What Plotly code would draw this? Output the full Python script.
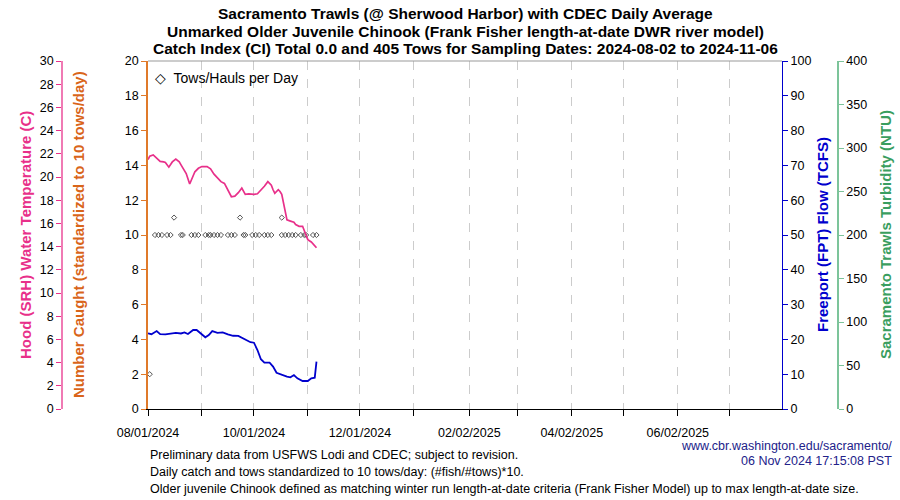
import plotly.graph_objects as go

# ---------------- data ----------------
temp_dates = ["2024-08-01", "2024-08-02", "2024-08-04", "2024-08-06", "2024-08-08", "2024-08-10",
              "2024-08-11", "2024-08-13", "2024-08-15", "2024-08-17", "2024-08-19", "2024-08-20",
              "2024-08-22", "2024-08-23", "2024-08-25", "2024-08-26", "2024-08-28", "2024-08-30",
              "2024-09-01", "2024-09-04", "2024-09-06", "2024-09-08", "2024-09-10", "2024-09-12",
              "2024-09-14", "2024-09-16", "2024-09-18", "2024-09-20", "2024-09-22", "2024-09-24",
              "2024-09-26", "2024-09-28", "2024-10-01", "2024-10-03", "2024-10-05", "2024-10-07",
              "2024-10-09", "2024-10-11", "2024-10-12", "2024-10-13", "2024-10-15", "2024-10-16",
              "2024-10-17", "2024-10-18", "2024-10-19", "2024-10-20", "2024-10-22", "2024-10-24",
              "2024-10-25", "2024-10-27", "2024-10-29", "2024-10-30", "2024-11-01", "2024-11-03",
              "2024-11-04", "2024-11-06"]
temp_values = [21.5, 21.8, 21.9, 21.6, 21.35, 21.3,
               21.25, 20.85, 21.3, 21.55, 21.3, 21.05,
               20.6, 20.3, 19.4, 19.8, 20.45, 20.75,
               20.9, 20.9, 20.7, 20.25, 19.95, 19.6,
               19.45, 18.9, 18.3, 18.35, 18.65, 19.05,
               18.5, 18.55, 18.5, 18.55, 18.85, 19.2,
               19.6, 19.3, 18.9, 18.6, 18.9, 18.75,
               18.5, 17.8, 17.2, 16.3, 16.2, 16.1,
               15.9, 15.75, 15.75, 15.4, 14.6, 14.4,
               14.2, 13.9]

flow_dates = ["2024-08-01", "2024-08-03", "2024-08-06", "2024-08-08", "2024-08-11", "2024-08-14",
              "2024-08-17", "2024-08-20", "2024-08-22", "2024-08-24", "2024-08-27", "2024-08-29",
              "2024-08-31", "2024-09-03", "2024-09-05", "2024-09-07", "2024-09-10", "2024-09-13",
              "2024-09-16", "2024-09-19", "2024-09-22", "2024-09-24", "2024-09-26", "2024-09-29",
              "2024-10-01", "2024-10-03", "2024-10-05", "2024-10-07", "2024-10-10", "2024-10-12",
              "2024-10-14", "2024-10-17", "2024-10-20", "2024-10-22", "2024-10-24", "2024-10-26",
              "2024-10-29", "2024-11-01", "2024-11-03", "2024-11-05", "2024-11-06"]
flow_values = [21.75, 21.5, 22.4, 21.5, 21.45, 21.75,
               21.9, 21.7, 22.0, 21.55, 22.7, 22.7,
               21.75, 20.6, 21.25, 22.4, 21.9, 22.0,
               21.45, 21.05, 21.0, 20.5, 19.8, 19.2,
               19.05, 16.95, 14.3, 13.3, 13.3, 12.2,
               10.4, 9.8, 9.3, 9.1, 9.75, 8.8,
               8.05, 8.05, 8.8, 9.0, 13.6]

# turbidity: no values shown in the chart
turb_dates = []
turb_values = []

tow_dates = ["2024-08-02", "2024-08-05", "2024-08-07", "2024-08-09", "2024-08-12", "2024-08-14",
             "2024-08-16", "2024-08-20", "2024-08-21", "2024-08-26", "2024-08-28", "2024-08-30",
             "2024-09-03", "2024-09-05", "2024-09-06", "2024-09-08", "2024-09-10", "2024-09-12",
             "2024-09-16", "2024-09-18", "2024-09-20", "2024-09-23", "2024-09-25", "2024-09-26",
             "2024-09-30", "2024-10-02", "2024-10-04", "2024-10-07", "2024-10-09", "2024-10-11",
             "2024-10-17", "2024-10-17", "2024-10-19", "2024-10-21", "2024-10-23", "2024-10-25",
             "2024-10-28", "2024-10-30", "2024-10-31", "2024-11-04", "2024-11-06"]
tow_values = [2, 10, 10, 10, 10, 10,
              11, 10, 10, 10, 10, 10,
              10, 10, 10, 10, 10, 10,
              10, 10, 10, 11, 10, 10,
              10, 10, 10, 10, 10, 10,
              10, 11, 10, 10, 10, 10,
              10, 10, 10, 10, 10]

tick_dates = ["2024-08-01", "2024-09-01", "2024-10-01", "2024-11-01", "2024-12-01", "2025-01-01",
              "2025-02-02", "2025-03-02", "2025-04-02", "2025-05-02", "2025-06-02", "2025-07-02"]
tick_labels = ["08/01/2024", "", "10/01/2024", "", "12/01/2024", "",
               "02/02/2025", "", "04/02/2025", "", "06/02/2025", ""]
x_range = ["2024-08-01", "2025-08-01"]

title_lines = ["Sacramento Trawls (@ Sherwood Harbor) with CDEC Daily Average",
               "Unmarked Older Juvenile Chinook (Frank Fisher length-at-date DWR river model)",
               "Catch Index (CI) Total 0.0 and 405 Tows for Sampling Dates: 2024-08-02 to 2024-11-06"]
footer_lines = ["Preliminary data from USFWS Lodi and CDEC; subject to revision.",
                "Daily catch and tows standardized to 10 tows/day: (#fish/#tows)*10.",
                "Older juvenile Chinook defined as matching winter run length-at-date criteria (Frank Fisher Model) up to max length-at-date size."]
credit_lines = ["www.cbr.washington.edu/sacramento/", "06 Nov 2024 17:15:08 PST"]

# ---------------- styling ----------------
W, H = 900, 500
PL, PR, PT, PB = 148, 782, 61, 409
FONT = "Liberation Sans, Arial, Helvetica, sans-serif"
PINK = "#E8308A"
PINK_AX = "#F07AB4"
ORANGE = "#D9651A"
ORANGE_AX = "#E07A2A"
BLUE = "#0000CD"
GREEN = "#3A9E5F"
GREEN_AX = "#7CC49A"

def px(x):
    return x / W

def py(y):
    return 1 - y / H

fig = go.Figure()
fig.add_trace(go.Scatter(x=temp_dates, y=temp_values, yaxis="y2", mode="lines",
                         line=dict(color=PINK, width=1.7), hoverinfo="skip"))
fig.add_trace(go.Scatter(x=flow_dates, y=flow_values, yaxis="y3", mode="lines",
                         line=dict(color=BLUE, width=1.8), hoverinfo="skip"))
fig.add_trace(go.Scatter(x=turb_dates, y=turb_values, yaxis="y4", mode="lines",
                         line=dict(color=GREEN, width=2), hoverinfo="skip"))
fig.add_trace(go.Scatter(x=tow_dates, y=tow_values, yaxis="y", mode="markers",
                         marker=dict(symbol="diamond-open", size=4, color="#555555",
                                     line=dict(width=1, color="#555555")),
                         hoverinfo="skip"))

tickfont = dict(family=FONT, size=12.5, color="black")
common_y = dict(showgrid=False, zeroline=False, showline=True, ticks="outside", ticklen=5,
                tickfont=tickfont, automargin=False, tick0=0)

fig.update_layout(
    width=W, height=H,
    margin=dict(l=0, r=0, t=0, b=0),
    paper_bgcolor="white", plot_bgcolor="white",
    showlegend=False,
    hovermode=False,
    font=dict(family=FONT, color="black"),
    xaxis=dict(domain=[px(PL), px(PR)], range=x_range, type="date",
               tickvals=tick_dates, ticktext=tick_labels, ticks="outside", ticklen=6,
               ticklabelstandoff=6,
               tickcolor="black", showline=True, linecolor="black", linewidth=1,
               showgrid=True, gridcolor="#cccccc", griddash="dash", gridwidth=1,
               zeroline=False, tickfont=tickfont, automargin=False, anchor="y"),
    yaxis=dict(domain=[py(PB), py(PT)], range=[0, 20], dtick=2,
               linecolor=ORANGE_AX, tickcolor=ORANGE_AX, linewidth=1.5, anchor="x", side="left",
               **common_y),
    yaxis2=dict(range=[0, 30], dtick=2, overlaying="y", anchor="free", position=px(62),
                side="left", linecolor=PINK_AX, tickcolor=PINK, linewidth=1.5, **common_y),
    yaxis3=dict(range=[0, 100], dtick=10, overlaying="y", anchor="x", side="right",
                linecolor=BLUE, tickcolor=BLUE, linewidth=1, **common_y),
    yaxis4=dict(range=[0, 400], dtick=50, overlaying="y", anchor="free", position=px(838),
                side="right", linecolor=GREEN_AX, tickcolor=GREEN_AX, linewidth=1.5, **common_y),
)

# top border of plot
fig.add_shape(type="line", xref="paper", yref="paper", x0=px(PL), x1=px(PR),
              y0=py(PT), y1=py(PT), line=dict(color="#999999", width=1))

ann = []
for i, t in enumerate(title_lines):
    ann.append(dict(text="<b>%s</b>" % t, x=px((PL + PR) / 2), y=py(13 + 18 * i),
                    xanchor="center", yanchor="middle",
                    font=dict(family=FONT, size=15.5, color="black")))
for i, t in enumerate(footer_lines):
    ann.append(dict(text=t, x=px(148), y=py(455 + 17 * i), xanchor="left", yanchor="middle",
                    font=dict(family=FONT, size=12.5, color="black")))
for i, t in enumerate(credit_lines):
    ann.append(dict(text=t, x=px(894), y=py(446 + 15 * i), xanchor="right", yanchor="middle",
                    font=dict(family=FONT, size=12.5, color="#22228A")))

axis_titles = [("Hood (SRH) Water Temperature (C)", 25, PINK),
               ("Number Caught (standardized to 10 tows/day)", 78, ORANGE),
               ("Freeport (FPT) Flow (TCFS)", 822, BLUE),
               ("Sacramento Trawls Turbidity (NTU)", 885, GREEN)]
for t, xx, c in axis_titles:
    ann.append(dict(text="<b>%s</b>" % t, x=px(xx), y=py(235), textangle=-90,
                    xanchor="center", yanchor="middle",
                    font=dict(family=FONT, size=15, color=c)))

ann.append(dict(text="\u25c7  Tows/Hauls per Day", x=px(153), y=py(78), xanchor="left",
                yanchor="middle", font=dict(family=FONT, size=14, color="black")))

for a in ann:
    a.update(xref="paper", yref="paper", showarrow=False)
fig.update_layout(annotations=ann)

fig.write_html("out.html", config={"displayModeBar": False},
               post_script="document.body.style.margin='0';document.body.style.padding='0';")
